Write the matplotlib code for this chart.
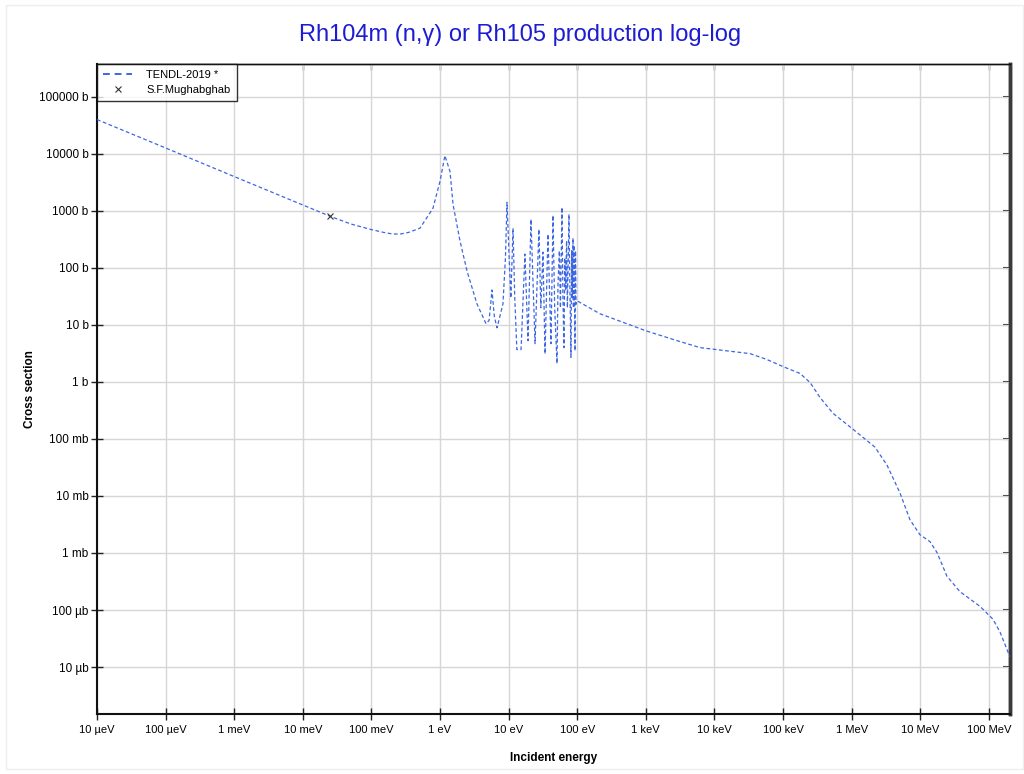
import matplotlib
matplotlib.use("Agg")
import matplotlib.pyplot as plt
from matplotlib.ticker import FixedLocator, NullLocator, NullFormatter
from matplotlib.patches import Rectangle

plt.rcParams['font.family'] = ['Liberation Sans', 'DejaVu Sans']

# TENDL-2019 evaluated cross section (energy in eV, cross section in barn)
energy_ev = [1e-5, 1e-4, 1e-3, 1e-2, 0.0253, 0.05, 0.1, 0.15, 0.2, 0.26, 0.35, 0.51, 0.79, 1.0,
             1.18, 1.40, 1.55, 1.96, 2.48, 3.46, 4.69, 5.2, 5.73, 6.2, 6.78, 8.28, 9.0, 9.48,
             10.1, 10.8, 11.6, 12.3, 13.2, 15.2, 17.3, 19.2, 21.2, 24.3, 27.7, 29.5, 31.7, 34.0,
             37.5, 41.5, 44.4, 47.0, 50.8, 52.5, 55.0, 57.0, 60.0, 62.0, 64.2, 66.0, 68.0, 70.0,
             72.0, 75.9, 78.0, 81.2, 83.0, 85.0, 86.9, 88.0, 90.0, 92.9, 94.5, 96.1,
             100.0, 215.0, 1000.0, 3000.0, 6170.0, 33000.0, 58500.0, 1.0e5, 1.77e5, 2.48e5,
             3.46e5, 5.36e5, 1.05e6, 2.19e6, 3.28e6, 5.08e6, 7.1e6, 9.9e6, 1.39e7, 1.76e7,
             2.46e7, 3.8e7, 7.45e7, 1.15e8, 1.46e8, 2.04e8]
xs_barn = [40000, 12700, 4000, 1270, 800, 590, 470, 420, 395, 391, 420, 497, 1110, 3290,
           9340, 4910, 1300, 295, 88, 23.4, 10.5, 12, 41, 14, 8.9, 23.4, 150, 1410,
           200, 29.8, 497, 30, 3.7, 3.7, 175, 5.3, 713, 4.7, 478, 20, 189, 3.1,
           391, 4.7, 838, 20, 2.1, 50, 200, 20, 1155, 30, 4.0, 150, 40, 300,
           20, 873, 60, 2.7, 200, 30, 333, 20, 250, 3.5, 200, 23,
           26.4, 15.7, 7.9, 5.2, 4.0, 3.14, 2.47, 1.86, 1.41, 0.98,
           0.536, 0.282, 0.148, 0.072, 0.0349, 0.0113, 0.00383, 0.0021, 0.00158, 0.00102,
           3.9e-4, 2.1e-4, 1.16e-4, 6.9e-5, 4.1e-5, 1.5e-5]

# S.F. Mughabghab thermal value
mugh_energy = [0.0253]
mugh_xs = [800]

x_ticks = [1e-5, 1e-4, 1e-3, 1e-2, 1e-1, 1, 10, 100, 1e3, 1e4, 1e5, 1e6, 1e7, 1e8]
x_labels = ['10 µeV', '100 µeV', '1 meV', '10 meV', '100 meV', '1 eV', '10 eV', '100 eV',
            '1 keV', '10 keV', '100 keV', '1 MeV', '10 MeV', '100 MeV']
y_ticks = [1e5, 1e4, 1e3, 1e2, 10, 1, 0.1, 0.01, 1e-3, 1e-4, 1e-5]
y_labels = ['100000 b', '10000 b', '1000 b', '100 b', '10 b', '1 b', '100 mb', '10 mb',
            '1 mb', '100 µb', '10 µb']

fig = plt.figure(figsize=(10.24, 7.74), dpi=100)
ax = fig.add_axes([97/1024, 1-714/774, (1010-97)/1024, (714-64)/774])

line_color = '#3d66e3'
ax.plot(energy_ev, xs_barn, color=line_color, lw=0.9, linestyle=(0, (3, 2)),
        label='TENDL-2019 *', zorder=3)
ax.plot(mugh_energy, mugh_xs, linestyle='none', marker='x', color='#333333',
        markersize=5, markeredgewidth=0.8, label='S.F.Mughabghab', zorder=4)

ax.set_xscale('log')
ax.set_yscale('log')
ax.set_xlim(1e-5, 2.04e8)
ax.set_ylim(1.5e-6, 3.77e5)

ax.xaxis.set_major_locator(FixedLocator(x_ticks))
ax.xaxis.set_minor_locator(NullLocator())
ax.set_xticklabels(x_labels)
ax.yaxis.set_major_locator(FixedLocator(y_ticks))
ax.yaxis.set_minor_locator(NullLocator())
ax.set_yticklabels(y_labels)

ax.grid(True, color='#d6d6d6', lw=1.0, zorder=0)
ax.set_axisbelow(True)

ax.tick_params(axis='both', which='major', direction='inout', length=8,
               width=1, color='#222222')
ax.tick_params(axis='x', labelsize=8, pad=4)
ax.tick_params(axis='y', labelsize=8.5, pad=2)

# inward ticks on top and right
sec_x = ax.secondary_xaxis('top')
sec_x.set_xticks(x_ticks)
sec_x.xaxis.set_minor_locator(NullLocator())
sec_x.xaxis.set_major_formatter(NullFormatter())
sec_x.tick_params(direction='in', length=4, width=1, color='#333333')
sec_x.spines['top'].set_linewidth(1.0)
sec_x.spines['top'].set_color('#111111')
sec_y = ax.secondary_yaxis('right')
sec_y.set_yticks(y_ticks)
sec_y.yaxis.set_minor_locator(NullLocator())
sec_y.yaxis.set_major_formatter(NullFormatter())
sec_y.tick_params(direction='in', length=5, width=1.5, color='#333333')
sec_y.spines['right'].set_linewidth(2.5)
sec_y.spines['right'].set_color('#3a3a3a')

for side in ['left', 'bottom']:
    ax.spines[side].set_linewidth(1.5)
    ax.spines[side].set_color('#111111')
ax.spines['top'].set_linewidth(1.0)
ax.spines['top'].set_color('#111111')
ax.spines['right'].set_linewidth(2.5)
ax.spines['right'].set_color('#3a3a3a')

ax.set_xlabel('Incident energy', fontsize=8.5, fontweight='bold', labelpad=12)
ax.set_ylabel('Cross section', fontsize=8.5, fontweight='bold', labelpad=2)

fig.text(520/1024, 1-35/774, 'Rh104m (n,γ) or Rh105 production log-log', color='#1c1cd2',
         fontsize=17, ha='center', va='center')

leg = ax.legend(loc='upper left', fontsize=8, frameon=True, fancybox=False,
                borderaxespad=0, handlelength=2.6, borderpad=0.55, labelspacing=0.45,
                handletextpad=1.3)
leg.get_frame().set_edgecolor('black')
leg.get_frame().set_linewidth(1.0)
leg.get_lines()[0].set_linewidth(1.4)
leg.get_lines()[0].set_linestyle((0, (3.5, 2.5)))
leg.set_zorder(5)

fig.patches.append(Rectangle((6/1024, 5/774), 1 - 7/1024, 1 - 10/774, transform=fig.transFigure,
                             fill=False, edgecolor='#eeeeee', lw=1))

fig.savefig('out.png', dpi=100)
